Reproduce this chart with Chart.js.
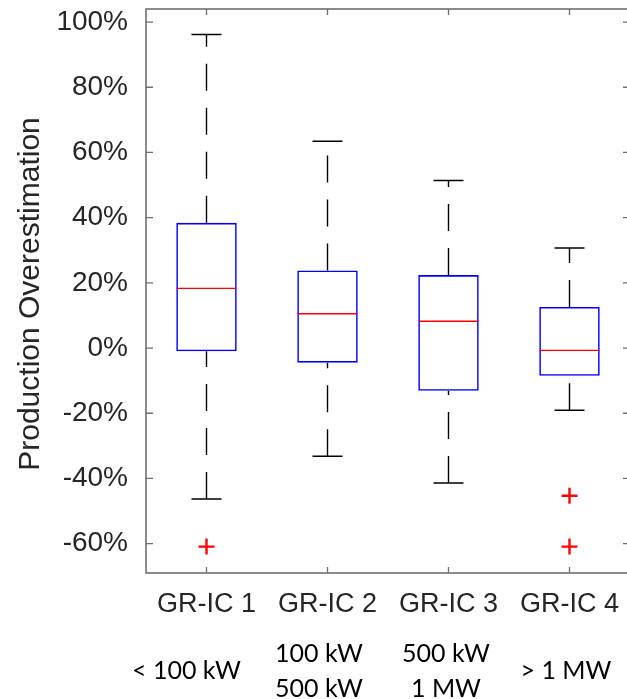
<!DOCTYPE html>
<html>
<head>
<meta charset="utf-8">
<script src="https://cdn.jsdelivr.net/npm/chart.js@4.4.1/dist/chart.umd.min.js"></script>
<style>
  html, body { margin: 0; padding: 0; background: #fff; }
  #wrap { width: 627px; height: 699px; overflow: hidden; }
</style>
</head>
<body>
<div id="wrap"><canvas id="box-chart" width="640" height="699"></canvas></div>
<script>
const categories = ['GR-IC 1', 'GR-IC 2', 'GR-IC 3', 'GR-IC 4']
const sizeClasses = [['< 100 kW'], ['100 kW', '500 kW'], ['500 kW', '1 MW'], ['> 1 MW']]
const q1 = [-1.0, -4.5, -13.1, -8.5]
const median = [18.3, 10.5, 8.2, -0.7]
const q3 = [38.4, 23.8, 22.4, 12.6]
const whiskerLow = [-46.3, -33.2, -41.4, -19.1]
const whiskerHigh = [96.2, 63.4, 51.4, 30.7]
const outliers = [[-60.9], [], [], [-45.3, -60.9]]
const yTicks = [-60, -40, -20, 0, 20, 40, 60, 80, 100]

const textColor = '#262626'
const axisColor = '#6f6f6f'
const labelFont = 'Liberation Sans, Arial, sans-serif'
const ctx = document.getElementById('box-chart')

// whiskers: one dashed line per whisker, drawn from the lower value upward
const whiskerSets = []
categories.forEach((c, i) => {
  ;[[q3[i], whiskerHigh[i]], [whiskerLow[i], q1[i]]].forEach((pair) => {
    whiskerSets.push({
      type: 'line',
      data: [{ x: c, y: pair[0] }, { x: c, y: pair[1] }],
      borderColor: '#000',
      borderWidth: 1.4,
      borderDash: [27, 17],
      pointRadius: 0,
      order: 3,
    })
  })
})

const capPoints = []
categories.forEach((c, i) => {
  capPoints.push({ x: c, y: whiskerHigh[i] })
  capPoints.push({ x: c, y: whiskerLow[i] })
})

const outlierPoints = []
outliers.forEach((list, i) => list.forEach((v) => outlierPoints.push({ x: categories[i], y: v })))

const frame = {
  id: 'frame',
  afterDatasetsDraw(chart) {
    const { ctx, chartArea: a, scales } = chart
    ctx.save()
    ctx.strokeStyle = axisColor
    ctx.lineWidth = 1.6
    ctx.strokeRect(a.left, a.top, a.right - a.left, a.bottom - a.top)
    ctx.lineWidth = 1.3
    ctx.beginPath()
    yTicks.forEach((v) => {
      const y = scales.y.getPixelForValue(v)
      ctx.moveTo(a.left, y)
      ctx.lineTo(a.left + 7, y)
      ctx.moveTo(a.right, y)
      ctx.lineTo(a.right - 7, y)
    })
    categories.forEach((c, i) => {
      const x = scales.x.getPixelForValue(i)
      ctx.moveTo(x, a.top)
      ctx.lineTo(x, a.top + 6)
      ctx.moveTo(x, a.bottom)
      ctx.lineTo(x, a.bottom - 6)
    })
    ctx.stroke()

    // y axis title
    ctx.fillStyle = textColor
    ctx.font = '30px ' + labelFont
    ctx.textAlign = 'center'
    ctx.textBaseline = 'alphabetic'
    ctx.translate(39, 294)
    ctx.rotate(-Math.PI / 2)
    ctx.fillText('Production Overestimation', 0, 0)
    ctx.restore()

    // size classes under the category labels
    const shift = [-20, -8.5, -2.5, -3.5]
    ctx.save()
    ctx.fillStyle = '#000'
    ctx.font = '25px Lato, sans-serif'
    ctx.textAlign = 'center'
    ctx.textBaseline = 'middle'
    sizeClasses.forEach((lines, i) => {
      const x = scales.x.getPixelForValue(i) + shift[i]
      if (lines.length === 1) {
        ctx.fillText(lines[0], x, 671)
      } else {
        ctx.fillText(lines[0], x, 654)
        ctx.fillText(lines[1], x, 689)
      }
    })
    ctx.restore()
  },
}

new Chart(ctx, {
  type: 'bar',
  data: {
    labels: categories,
    datasets: [
      {
        label: 'box',
        data: q1.map((v, i) => [v, q3[i]]),
        backgroundColor: 'rgba(255,255,255,0)',
        borderColor: '#0000ff',
        borderWidth: 1.6,
        borderSkipped: false,
        barPercentage: 0.5,
        categoryPercentage: 1,
        order: 2,
      },
      ...whiskerSets,
      {
        type: 'line',
        label: 'caps',
        data: capPoints,
        showLine: false,
        pointStyle: 'line',
        pointRadius: 15,
        pointBorderColor: '#000',
        pointBorderWidth: 1.5,
        order: 1,
      },
      {
        type: 'line',
        label: 'median',
        data: categories.map((c, i) => ({ x: c, y: median[i] })),
        showLine: false,
        pointStyle: 'line',
        pointRadius: 30,
        pointBorderColor: '#ff0000',
        pointBorderWidth: 1.4,
        order: 0,
      },
      {
        type: 'line',
        label: 'outliers',
        data: outlierPoints,
        showLine: false,
        pointStyle: 'cross',
        pointRadius: 8,
        pointBorderColor: '#ff0000',
        pointBorderWidth: 2.4,
        order: 0,
      },
    ],
  },
  options: {
    responsive: false,
    animation: false,
    devicePixelRatio: 1,
    layout: { autoPadding: false, padding: { left: 0, right: 10, top: 9, bottom: 0 } },
    scales: {
      x: {
        offset: true,
        grid: { display: false, drawTicks: false },
        border: { display: false },
        afterFit: (scale) => {
          scale.height = 126
          scale.paddingLeft = 0
          scale.paddingRight = 0
        },
        ticks: {
          padding: 15,
          color: textColor,
          font: { family: labelFont, size: 27 },
          maxRotation: 0,
        },
      },
      y: {
        min: -69,
        max: 104,
        grid: { display: false, drawTicks: false },
        border: { display: false },
        afterFit: (scale) => {
          scale.width = 146
          scale.paddingTop = 0
          scale.paddingBottom = 0
        },
        afterBuildTicks: (scale) => { scale.ticks = yTicks.map((v) => ({ value: v })) },
        ticks: {
          padding: 18,
          color: textColor,
          font: { family: labelFont, size: 28 },
          callback: (v) => v + '%',
        },
      },
    },
    plugins: {
      legend: { display: false },
      tooltip: { enabled: false },
    },
  },
  plugins: [frame],
})
</script>
</body>
</html>
